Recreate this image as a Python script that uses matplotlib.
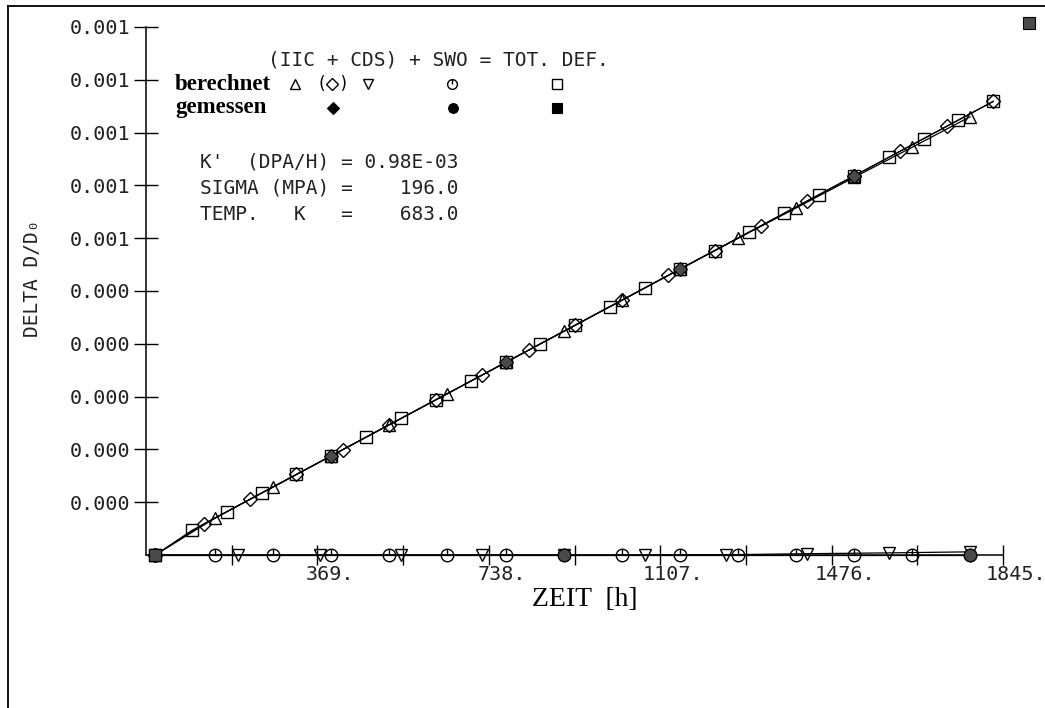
import numpy as np
import matplotlib
matplotlib.use("Agg")
import matplotlib.pyplot as plt
from matplotlib.path import Path
from matplotlib.lines import Line2D
from matplotlib.transforms import ScaledTranslation

# ---------------- data (values in units of 1e-4) ----------------
UNIT = 1e-4

# IIC, calculated (open triangle up)
t_iic = [20, 149, 274, 399, 524, 649, 774, 899, 1024, 1149, 1274, 1399, 1524, 1649, 1774]
v_iic = [0.0, 0.702, 1.291, 1.879, 2.468, 3.057, 3.646, 4.234, 4.823, 5.412, 5.995, 6.570, 7.150, 7.720, 8.300]

# (IIC + CDS), calculated (open diamond)
t_sum = [20, 124, 224, 324, 424, 524, 624, 724, 824, 924, 1024, 1124, 1224, 1324, 1424, 1524, 1624, 1724, 1824]
v_sum = [0.0, 0.584, 1.055, 1.526, 1.997, 2.468, 2.939, 3.410, 3.881, 4.352, 4.823, 5.294, 5.765, 6.236, 6.707, 7.178, 7.649, 8.120, 8.591]

# CDS, calculated (open triangle down)
t_cds = [20, 199, 374, 549, 724, 899, 1074, 1249, 1424, 1599, 1774]
v_cds = [0.0, 0.0, 0.0, 0.0, 0.0, 0.0, 0.0, 0.005, 0.025, 0.040, 0.060]

# SWO, calculated (circle)
t_swo = [20, 149, 274, 399, 524, 649, 774, 899, 1024, 1149, 1274, 1399, 1524, 1649, 1774]
v_swo = [0.0, 0.0, 0.0, 0.0, 0.0, 0.0, 0.0, 0.0, 0.0, 0.0, 0.0, 0.0, 0.0, 0.0, 0.0]

# TOT. DEF., calculated (open square)
t_tot = [20, 99, 174, 249, 324, 399, 474, 549, 624, 699, 774, 849, 924, 999, 1074,
         1149, 1224, 1299, 1374, 1449, 1524, 1599, 1674, 1749, 1824]
v_tot = [0.0, 0.466, 0.820, 1.173, 1.526, 1.879, 2.233, 2.586, 2.939, 3.292, 3.646,
         3.999, 4.352, 4.705, 5.059, 5.412, 5.765, 6.118, 6.472, 6.825, 7.178, 7.531,
         7.885, 8.238, 8.591]

# measured values (filled)
t_sum_m = [20, 399, 774, 1149, 1524]
v_sum_m = [0.0, 1.879, 3.646, 5.412, 7.178]
t_swo_m = [20, 899, 1774]
v_swo_m = [0.0, 0.0, 0.0]
t_tot_m = [20, 1901]
v_tot_m = [0.0, 10.08]

# axes ticks
XTICKS_MAJOR = [369, 738, 1107, 1476, 1845]
XTICK_LABELS = ["369.", "738.", "1107.", "1476.", "1845."]
XTICKS_MINOR = [184.5, 553.5, 922.5, 1291.5, 1660.5]
YTICKS = [0.0001, 0.0002, 0.0003, 0.0004, 0.0005, 0.0006, 0.0007, 0.0008, 0.0009, 0.0010]
YTICK_LABELS = ["0.000", "0.000", "0.000", "0.000", "0.000",
                "0.001", "0.001", "0.001", "0.001", "0.001"]

# ---------------- figure ----------------
W, H = 1045, 708
fig = plt.figure(figsize=(W / 100, H / 100), dpi=100)
fig.patch.set_facecolor("white")

ax_l, ax_r, ax_b, ax_t = 146, 1003, 555, 27
ax = fig.add_axes([ax_l / W, (H - ax_b) / H, (ax_r - ax_l) / W, (ax_b - ax_t) / H])
ax.set_xlim(0, 1845)
ax.set_ylim(0, 0.001)
for s in ("top", "right"):
    ax.spines[s].set_visible(False)
for s in ("left", "bottom"):
    ax.spines[s].set_linewidth(1.1)

MONO = "DejaVu Sans Mono"
SERIF = "Liberation Serif"

ax.set_xticks(XTICKS_MAJOR, XTICK_LABELS)
ax.set_xticks(XTICKS_MINOR, minor=True)
ax.set_yticks(YTICKS, YTICK_LABELS)
ax.tick_params(axis="x", which="both", direction="inout", length=15, width=1.0, pad=0)
ax.tick_params(axis="y", which="both", direction="inout", length=17, width=1.0, pad=3)
for lab in ax.get_xticklabels():
    lab.set_fontfamily(MONO)
    lab.set_fontsize(14.5)
    lab.set_color("#222222")
    lab.set_transform(lab.get_transform() + ScaledTranslation(0.13, 0, fig.dpi_scale_trans))
for lab in ax.get_yticklabels():
    lab.set_fontfamily(MONO)
    lab.set_fontsize(14.5)
    lab.set_color("#222222")

# custom markers
clock = Path.make_compound_path(Path.unit_circle(),
                                Path([[0, 1], [0, 0]], [Path.MOVETO, Path.LINETO]))

def arr(v):
    return np.asarray(v) * UNIT

lkw = dict(color="black", lw=0.9, clip_on=False)
mkw = dict(mfc="none", mec="black", mew=1.0, ms=9)

ax.plot(t_swo, arr(v_swo), marker=clock, **lkw, **mkw, zorder=3)
ax.plot(t_cds, arr(v_cds), marker="v", **lkw, **mkw, zorder=3)
ax.plot(t_tot, arr(v_tot), marker="s", **lkw, **dict(mkw, ms=8.5), zorder=3)
ax.plot(t_sum, arr(v_sum), marker="D", **lkw, **dict(mkw, ms=7.5), zorder=3)
ax.plot(t_iic, arr(v_iic), marker="^", **lkw, **mkw, zorder=3)

gray = "#4a4a4a"
fkw = dict(ls="none", mfc=gray, mec="black", mew=0.8, clip_on=False, zorder=4)
ax.plot(t_sum_m, arr(v_sum_m), marker="D", ms=7.5, **fkw)
ax.plot(t_swo_m, arr(v_swo_m), marker="o", ms=9, **fkw)
ax.plot(t_tot_m, arr(v_tot_m), marker="s", ms=8, **fkw)

# ---------------- labels / annotation text ----------------
def axf(px, py):
    return ((px - ax_l) / (ax_r - ax_l), (ax_b - py) / (ax_b - ax_t))

fig.text(585 / W, 1 - 600 / H, "ZEIT  [h]", family=SERIF, fontsize=20,
         ha="center", va="center")
fig.text(33 / W, 1 - 278 / H, "DELTA D/D\u2080", family=MONO, fontsize=14,
         rotation=90, ha="center", va="center", color="#222222")

tr = ax.transAxes
x0, y0 = axf(268, 60)
ax.text(x0, y0, "(IIC + CDS) + SWO = TOT. DEF.", transform=tr, family=MONO,
        fontsize=14, ha="left", va="center", color="#222222")
x0, y0 = axf(175, 84)
ax.text(x0, y0, "berechnet", transform=tr, family=SERIF, fontsize=16.5,
        fontweight="bold", ha="left", va="center")
x0, y0 = axf(175, 108)
ax.text(x0, y0, "gemessen", transform=tr, family=SERIF, fontsize=16.5,
        fontweight="bold", ha="left", va="center")

small = dict(mfc="none", mec="black", mew=1.0, ms=7, transform=tr, clip_on=False)
for px, mk in [(295, "^"), (332, "D"), (368, "v"), (452, clock), (557, "s")]:
    xx, yy = axf(px, 84)
    ax.plot([xx], [yy], marker=mk, **(dict(small, ms=6) if mk == "D" else small))
for px in (321, 343):
    xx, yy = axf(px, 84)
    ax.text(xx, yy, "(" if px < 332 else ")", transform=tr, family=MONO,
            fontsize=12, ha="center", va="center")
filled = dict(mfc="black", mec="black", mew=0.8, ms=7, transform=tr, clip_on=False)
for px, mk in [(333, "D"), (453, "o"), (557, "s")]:
    xx, yy = axf(px, 108)
    ax.plot([xx], [yy], marker=mk, **(dict(filled, ms=6.5) if mk == "D" else filled))

param_lines = ["K'  (DPA/H) = 0.98E-03",
               "SIGMA (MPA) =    196.0",
               "TEMP.   K   =    683.0"]
for txt, py in zip(param_lines, (162, 188, 214)):
    xx, yy = axf(200, py)
    ax.text(xx, yy, txt, transform=tr, family=MONO, fontsize=14,
            ha="left", va="center", color="#222222")

# scanned page frame
fig.add_artist(Line2D([8 / W, 8 / W], [0, 1 - 6 / H], transform=fig.transFigure,
                      color="black", lw=1.3))
fig.add_artist(Line2D([8 / W, 1], [1 - 6 / H, 1 - 6 / H], transform=fig.transFigure,
                      color="black", lw=1.3))

fig.savefig("out.png", dpi=100, facecolor="white")
